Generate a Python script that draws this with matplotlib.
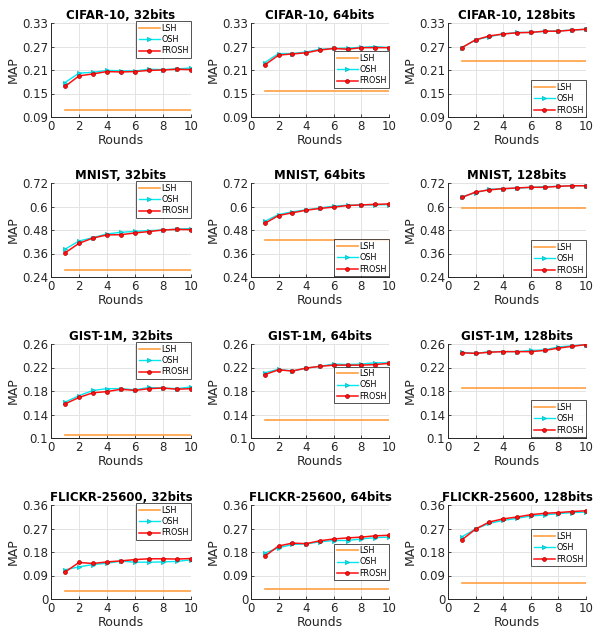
import matplotlib
matplotlib.use("Agg")
import matplotlib.pyplot as plt

rounds = [1, 2, 3, 4, 5, 6, 7, 8, 9, 10]

titles = ["CIFAR-10, 32bits", "CIFAR-10, 64bits", "CIFAR-10, 128bits",
          "MNIST, 32bits", "MNIST, 64bits", "MNIST, 128bits",
          "GIST-1M, 32bits", "GIST-1M, 64bits", "GIST-1M, 128bits",
          "FLICKR-25600, 32bits", "FLICKR-25600, 64bits", "FLICKR-25600, 128bits"]

lsh = [0.108, 0.157, 0.232,
       0.277, 0.429, 0.592,
       0.105, 0.131, 0.185,
       0.032, 0.039, 0.060]

osh = [
    [0.178, 0.202, 0.204, 0.209, 0.208, 0.2075, 0.212, 0.211, 0.213, 0.215],
    [0.229, 0.252, 0.252, 0.256, 0.263, 0.265, 0.266, 0.268, 0.270, 0.267],
    [0.267, 0.287, 0.295, 0.302, 0.306, 0.306, 0.309, 0.310, 0.312, 0.314],
    [0.382, 0.424, 0.441, 0.460, 0.468, 0.473, 0.477, 0.480, 0.485, 0.487],
    [0.524, 0.559, 0.573, 0.583, 0.593, 0.602, 0.607, 0.608, 0.608, 0.610],
    [0.650, 0.670, 0.688, 0.691, 0.693, 0.698, 0.701, 0.703, 0.706, 0.706],
    [0.161, 0.172, 0.181, 0.184, 0.184, 0.182, 0.186, 0.185, 0.184, 0.187],
    [0.211, 0.217, 0.214, 0.219, 0.222, 0.226, 0.225, 0.226, 0.228, 0.228],
    [0.246, 0.244, 0.247, 0.247, 0.247, 0.249, 0.250, 0.255, 0.257, 0.259],
    [0.112, 0.123, 0.132, 0.137, 0.145, 0.141, 0.141, 0.142, 0.144, 0.150],
    [0.176, 0.196, 0.209, 0.211, 0.219, 0.224, 0.224, 0.230, 0.235, 0.237],
    [0.238, 0.268, 0.290, 0.301, 0.309, 0.318, 0.322, 0.327, 0.331, 0.333],
]

frosh = [
    [0.168, 0.195, 0.200, 0.206, 0.205, 0.206, 0.209, 0.210, 0.212, 0.211],
    [0.223, 0.248, 0.251, 0.254, 0.261, 0.265, 0.263, 0.267, 0.267, 0.267],
    [0.267, 0.287, 0.297, 0.302, 0.305, 0.306, 0.309, 0.309, 0.312, 0.314],
    [0.363, 0.412, 0.439, 0.455, 0.456, 0.465, 0.472, 0.480, 0.483, 0.482],
    [0.514, 0.554, 0.568, 0.581, 0.590, 0.597, 0.605, 0.608, 0.611, 0.613],
    [0.646, 0.674, 0.685, 0.691, 0.695, 0.698, 0.698, 0.703, 0.706, 0.706],
    [0.158, 0.169, 0.177, 0.179, 0.183, 0.181, 0.184, 0.185, 0.183, 0.184],
    [0.208, 0.216, 0.214, 0.219, 0.222, 0.224, 0.224, 0.224, 0.225, 0.227],
    [0.245, 0.244, 0.246, 0.247, 0.247, 0.247, 0.249, 0.253, 0.256, 0.259],
    [0.103, 0.140, 0.136, 0.142, 0.146, 0.151, 0.154, 0.154, 0.153, 0.155],
    [0.164, 0.203, 0.214, 0.212, 0.223, 0.230, 0.234, 0.237, 0.242, 0.244],
    [0.226, 0.268, 0.295, 0.307, 0.314, 0.323, 0.328, 0.331, 0.335, 0.338],
]

yticks_rows = [
    [0.09, 0.15, 0.21, 0.27, 0.33],
    [0.24, 0.36, 0.48, 0.6, 0.72],
    [0.1, 0.14, 0.18, 0.22, 0.26],
    [0, 0.09, 0.18, 0.27, 0.36],
]
ytick_labels_rows = [
    ["0.09", "0.15", "0.21", "0.27", "0.33"],
    ["0.24", "0.36", "0.48", "0.6", "0.72"],
    ["0.1", "0.14", "0.18", "0.22", "0.26"],
    ["0", "0.09", "0.18", "0.27", "0.36"],
]
xticks = [0, 2, 4, 6, 8, 10]

# legend placement (loc, anchor) per panel
leg_pos = [
    ("upper right", (1.0, 1.02)), ("upper right", (1.0, 0.70)), ("upper right", (1.0, 0.39)),
    ("upper right", (1.0, 1.02)), ("upper right", (1.0, 0.40)), ("upper right", (1.0, 0.39)),
    ("upper right", (1.0, 1.02)), ("upper right", (1.0, 0.76)), ("upper right", (1.0, 0.40)),
    ("upper right", (1.0, 1.02)), ("upper right", (1.0, 0.59)), ("upper right", (1.0, 0.74)),
]

W, H = 595, 633
fig = plt.figure(figsize=(W / 100, H / 100), dpi=100)

col_left = [51, 251, 448]
col_w = [140, 138, 138]
row_top = [23, 183, 344, 505]
row_h = 94

c_lsh = "#ff9f40"
c_osh = "#00e8f0"
c_frosh = "#ff1010"
dark = "#262626"

for i in range(12):
    r, c = divmod(i, 3)
    left = col_left[c] / W
    bottom = 1 - (row_top[r] + row_h) / H
    ax = fig.add_axes([left, bottom, col_w[c] / W, row_h / H])
    ax.plot(rounds, [lsh[i]] * len(rounds), color=c_lsh, lw=1.2, label="LSH")
    ax.plot(rounds, osh[i], color=c_osh, lw=1.0, marker=">", ms=3,
            mfc=c_osh, mec="#00b8c0", mew=0.5, label="OSH")
    ax.plot(rounds, frosh[i], color=c_frosh, lw=1.1, marker="o", ms=2.8,
            mfc=c_frosh, mec="#b00000", mew=0.5, label="FROSH")
    yt = yticks_rows[r]
    ax.set_xlim(0, 10)
    ax.set_ylim(yt[0], yt[-1])
    ax.set_xticks(xticks)
    ax.set_yticks(yt)
    ax.set_yticklabels(ytick_labels_rows[r])
    ax.grid(True, color="#e3e3e3", lw=0.7)
    ax.set_axisbelow(True)
    for s in ["top", "right"]:
        ax.spines[s].set_visible(False)
    for s in ["left", "bottom"]:
        ax.spines[s].set_color(dark)
        ax.spines[s].set_linewidth(0.7)
    ax.tick_params(direction="in", length=2.5, width=0.6, colors=dark,
                   labelsize=8.5, pad=2)
    ax.set_title(titles[i], fontsize=8.5, fontweight="bold", pad=3, color="black")
    ax.set_xlabel("Rounds", fontsize=9, labelpad=1, color=dark)
    ax.set_ylabel("MAP", fontsize=9, labelpad=2, color=dark)
    loc, anchor = leg_pos[i]
    leg = ax.legend(loc=loc, bbox_to_anchor=anchor, fontsize=5.8, frameon=True,
                    fancybox=False, edgecolor=dark, borderpad=0.3,
                    handlelength=2.6, handletextpad=0.2, labelspacing=0.3,
                    borderaxespad=0.0)
    leg.get_frame().set_linewidth(0.7)

fig.savefig("out.png", dpi=100)
